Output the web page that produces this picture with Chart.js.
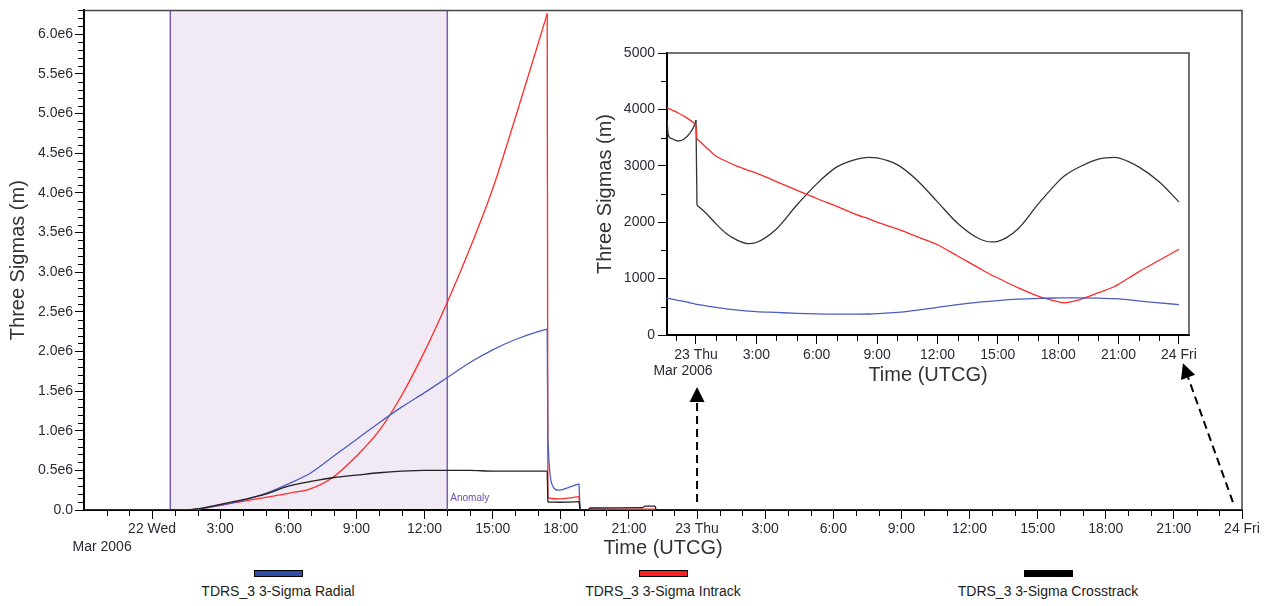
<!DOCTYPE html>
<html><head><meta charset="utf-8">
<script src="https://cdn.jsdelivr.net/npm/chart.js@4.4.1/dist/chart.umd.min.js"></script>
<style>
html,body{margin:0;padding:0;background:#fff;}
#wrap{position:relative;width:1271px;height:606px;overflow:hidden;font-family:'Liberation Sans',Arial,sans-serif;}
#main{position:absolute;left:0;top:0;}
#inset{position:absolute;left:590px;top:40px;}
.lg{position:absolute;top:570px;width:300px;text-align:center;font-size:14px;color:#222;line-height:16px;}
.lg .sw{display:block;margin:0 auto;width:47px;height:5px;border:1px solid #000;}
.lg .tx{display:block;margin-top:6px;}
</style></head>
<body>
<div id="wrap">
<canvas id="main" width="1271" height="560"></canvas>
<canvas id="inset" width="620" height="350"></canvas>
<div class="lg" style="left:128px"><span class="sw" style="background:#2f4ea8"></span><span class="tx">TDRS_3 3-Sigma Radial</span></div>
<div class="lg" style="left:513px"><span class="sw" style="background:#ff1f1f"></span><span class="tx">TDRS_3 3-Sigma Intrack</span></div>
<div class="lg" style="left:898px"><span class="sw" style="background:#000"></span><span class="tx">TDRS_3 3-Sigma Crosstrack</span></div>
</div>
<script>
// ---- Main chart data (hours from 22 Mar 2006 00:00 UTCG, values in m) ----
const mainHours = [-3, 1.5, 2, 3, 4, 5, 6, 7, 8, 9, 10, 11, 12, 13, 14, 15, 16, 17, 17.4, 17.43, 17.5, 17.6, 17.9, 18.3, 18.8, 18.85, 19.2, 19.3, 21.6, 21.7, 22.15, 22.2];
const radialMain = [0, 0, 1e4, 6e4, 1.2e5, 2.1e5, 3.3e5, 4.7e5, 6.8e5, 8.9e5, 1.1e6, 1.3e6, 1.48e6, 1.67e6, 1.86e6, 2.02e6, 2.15e6, 2.25e6, 2.28e6, 8.8e5, 5.3e5, 3.3e5, 2.5e5, 2.8e5, 3.3e5, 2e3, 2e3, 2e3, 2e3, 2e3, 2e3, 1e3];
const intrackMain = [0, 0, 1e4, 6e4, 1.1e5, 1.6e5, 2.1e5, 2.7e5, 4.2e5, 6.8e5, 1.0e6, 1.45e6, 2.0e6, 2.62e6, 3.3e6, 4.05e6, 4.95e6, 5.88e6, 6.26e6, 1.6e5, 1.5e5, 1.45e5, 1.4e5, 1.5e5, 1.7e5, 3e3, 5e3, 1.2e4, 1.2e4, 1.2e4, 1.2e4, 4e3];
const crossMain = [0, 0, 1.5e4, 7e4, 1.3e5, 2.0e5, 3.0e5, 3.6e5, 4.1e5, 4.4e5, 4.7e5, 4.9e5, 5.0e5, 5.0e5, 5.0e5, 4.9e5, 4.9e5, 4.9e5, 4.9e5, 1.0e5, 1.0e5, 1.0e5, 9.8e4, 1.0e5, 1.05e5, 5e3, 5e3, 2.5e4, 3.0e4, 5.0e4, 5.0e4, 4e3];
const mainBreaks = [18, 24];   // indices where the curves jump (straight segments)

// ---- Inset data (hours from 23 Mar 2006 00:00 UTCG, values in m) ----
const insetHours = [-1.44, -1.38, -1.2, -0.9, -0.6, -0.3, -0.1, 0, 0.05, 0.5, 1, 1.5, 2, 2.6, 3, 4, 5, 6, 7, 8, 8.6, 9, 10, 11, 12, 13, 14, 14.7, 15, 16, 17, 18, 18.3, 19, 20, 20.8, 21, 22, 23, 24];
const radialInset = [650, 648, 635, 615, 595, 570, 555, 545, 543, 515, 490, 465, 445, 425, 415, 400, 385, 375, 370, 370, 372, 378, 400, 440, 490, 540, 580, 600, 610, 635, 650, 658, 660, 660, 655, 645, 640, 605, 570, 540];
const intrackInset = [4040, 4020, 3990, 3940, 3880, 3810, 3760, 3720, 3480, 3330, 3170, 3080, 3000, 2920, 2870, 2720, 2570, 2420, 2280, 2130, 2060, 2000, 1880, 1740, 1600, 1400, 1200, 1060, 1010, 840, 690, 590, 570, 620, 750, 860, 900, 1120, 1320, 1520];
const crossInset = [3830, 3550, 3480, 3440, 3470, 3580, 3700, 3810, 2300, 2160, 1970, 1800, 1690, 1620, 1640, 1880, 2300, 2680, 2980, 3120, 3150, 3140, 3020, 2740, 2360, 1980, 1720, 1650, 1660, 1880, 2320, 2720, 2820, 2970, 3120, 3150, 3140, 2980, 2720, 2360];
const insetBreaks = [7];

// ---- Tick labels / ranges ----
const mainXTicks = [0, 3, 6, 9, 12, 15, 18, 21, 24, 27, 30, 33, 36, 39, 42, 45, 48];
const mainYTicks = [0, 0.5e6, 1.0e6, 1.5e6, 2.0e6, 2.5e6, 3.0e6, 3.5e6, 4.0e6, 4.5e6, 5.0e6, 5.5e6, 6.0e6];
const insetXTicks = [0, 3, 6, 9, 12, 15, 18, 21, 24];
const insetYTicks = [0, 1000, 2000, 3000, 4000, 5000];
const dayLabels = {0: '22 Wed', 24: '23 Thu', 48: '24 Fri'};
const insetDayLabels = {0: '23 Thu', 24: '24 Fri'};
const monthLabel = 'Mar 2006';
const anomalyStart = 0.8, anomalyEnd = 13.0;
const seriesNames = ['TDRS_3 3-Sigma Radial', 'TDRS_3 3-Sigma Intrack', 'TDRS_3 3-Sigma Crosstrack'];

const FONT = "'Liberation Sans', Arial, sans-serif";
const TICKC = '#2a2a35';

function pts(hours, vals, shift) { return hours.map((h, i) => ({x: h + (shift || 0), y: vals[i]})); }
// split a point list at jump indices: smooth piece, straight jump piece, smooth piece...
function pieces(points, breaks) {
  const out = []; let start = 0;
  breaks.forEach(b => { out.push(points.slice(start, b + 1)); out.push(points.slice(b, b + 2)); start = b + 1; });
  out.push(points.slice(start));
  return out;
}
function makeSets(name, points, breaks, color) {
  return pieces(points, breaks).map(p => ({label: name, data: p, borderColor: color}));
}
function hourLabel(v, days) {
  if (days[v] !== undefined) return days[v];
  return (((v % 24) + 24) % 24) + ':00';
}
function arrow(ctx, x0, y0, x1, y1) {
  const ang = Math.atan2(y1 - y0, x1 - x0), hl = 15, hw = 7.5;
  const bx = x1 - hl * Math.cos(ang), by = y1 - hl * Math.sin(ang);
  ctx.save();
  ctx.strokeStyle = '#000'; ctx.fillStyle = '#000'; ctx.lineWidth = 2;
  ctx.setLineDash([8, 5]);
  ctx.beginPath(); ctx.moveTo(x0, y0); ctx.lineTo(bx, by); ctx.stroke();
  ctx.setLineDash([]);
  ctx.beginPath(); ctx.moveTo(x1, y1);
  ctx.lineTo(bx + hw * Math.sin(ang), by - hw * Math.cos(ang));
  ctx.lineTo(bx - hw * Math.sin(ang), by + hw * Math.cos(ang));
  ctx.closePath(); ctx.fill();
  ctx.restore();
}

const mainDeco = {
  id: 'mainDeco',
  beforeDatasetsDraw(c) {
    const {ctx, chartArea: a, scales: {x}} = c;
    const x1 = x.getPixelForValue(anomalyStart), x2 = x.getPixelForValue(anomalyEnd);
    ctx.save();
    ctx.fillStyle = '#f1e9f3';
    ctx.fillRect(x1, a.top, x2 - x1, a.bottom - a.top - 1);
    ctx.strokeStyle = '#7a5db4'; ctx.lineWidth = 1.5;
    [x1, x2].forEach(px => { ctx.beginPath(); ctx.moveTo(px, a.top); ctx.lineTo(px, a.bottom); ctx.stroke(); });
    ctx.fillStyle = '#6b4fae'; ctx.font = '10px ' + FONT; ctx.textAlign = 'left'; ctx.textBaseline = 'alphabetic';
    ctx.fillText('Anomaly', x2 + 3, a.bottom - 9);
    ctx.restore();
  },
  afterDraw(c) {
    const {ctx, chartArea: a, scales: {x, y}} = c;
    ctx.save();
    ctx.strokeStyle = '#000'; ctx.lineWidth = 1;
    for (let h = -3; h <= 48; h++) {
      if (h % 3 === 0) continue;
      const px = Math.round(x.getPixelForValue(h)) + 0.5;
      ctx.beginPath(); ctx.moveTo(px, a.bottom); ctx.lineTo(px, a.bottom + 6); ctx.stroke();
    }
    for (let k = 1; k <= 63; k++) {
      if (k % 5 === 0) continue;
      const py = Math.round(y.getPixelForValue(k * 1e5)) + 0.5;
      ctx.beginPath(); ctx.moveTo(a.left - 6, py); ctx.lineTo(a.left, py); ctx.stroke();
    }
    ctx.strokeStyle = '#444'; ctx.lineWidth = 1.5;
    ctx.beginPath(); ctx.moveTo(a.left, a.top); ctx.lineTo(a.right, a.top); ctx.lineTo(a.right, a.bottom); ctx.stroke();
    ctx.fillStyle = TICKC; ctx.font = '14px ' + FONT; ctx.textAlign = 'center'; ctx.textBaseline = 'middle';
    ctx.fillText(monthLabel, x.getPixelForValue(0) - 50, 547);
    ctx.restore();
    arrow(ctx, x.getPixelForValue(24), y.getPixelForValue(1.0e5), x.getPixelForValue(24), y.getPixelForValue(1.55e6));
    arrow(ctx, x.getPixelForValue(47.6), y.getPixelForValue(1.0e5), x.getPixelForValue(45.4), y.getPixelForValue(1.85e6));
  }
};

const insetDeco = {
  id: 'insetDeco',
  afterDraw(c) {
    const {ctx, chartArea: a, scales: {x, y}} = c;
    ctx.save();
    ctx.strokeStyle = '#000'; ctx.lineWidth = 1;
    for (let h = -1; h <= 24; h++) {
      if (h % 3 === 0) continue;
      const px = Math.round(x.getPixelForValue(h)) + 0.5;
      ctx.beginPath(); ctx.moveTo(px, a.bottom); ctx.lineTo(px, a.bottom + 6); ctx.stroke();
    }
    for (let v = 500; v < 5000; v += 1000) {
      const py = Math.round(y.getPixelForValue(v)) + 0.5;
      ctx.beginPath(); ctx.moveTo(a.left - 6, py); ctx.lineTo(a.left, py); ctx.stroke();
    }
    ctx.strokeStyle = '#444'; ctx.lineWidth = 1.5;
    ctx.beginPath(); ctx.moveTo(a.left, a.top); ctx.lineTo(a.right, a.top); ctx.lineTo(a.right, a.bottom); ctx.stroke();
    ctx.fillStyle = TICKC; ctx.font = '14px ' + FONT; ctx.textAlign = 'center'; ctx.textBaseline = 'middle';
    ctx.fillText(monthLabel, x.getPixelForValue(0) - 13, 331);
    ctx.restore();
  }
};

const colors = {radial: '#4c5dbf', intrack: '#ff2a2a', cross: '#222222'};

new Chart(document.getElementById('main'), {
  type: 'line',
  data: {
    datasets: [].concat(
      makeSets(seriesNames[2], pts(mainHours, crossMain).concat(pts(insetHours, crossInset, 24)), mainBreaks, colors.cross),
      makeSets(seriesNames[0], pts(mainHours, radialMain).concat(pts(insetHours, radialInset, 24)), mainBreaks, colors.radial),
      makeSets(seriesNames[1], pts(mainHours, intrackMain).concat(pts(insetHours, intrackInset, 24)), mainBreaks, colors.intrack)
    )
  },
  options: {
    responsive: false, animation: false,
    layout: {padding: {left: 0, top: 8, right: 29, bottom: 0}},
    plugins: {legend: {display: false}, tooltip: {enabled: false}},
    elements: {point: {radius: 0}, line: {borderWidth: 1.3, cubicInterpolationMode: 'monotone'}},
    scales: {
      x: {
        type: 'linear', min: -3, max: 48,
        afterBuildTicks: s => { s.ticks = mainXTicks.map(v => ({value: v})); },
        afterFit: s => { s.height = 50; },
        ticks: {autoSkip: false, maxRotation: 0, padding: 2, font: {family: FONT, size: 14}, color: TICKC,
                callback: v => hourLabel(v, dayLabels)},
        grid: {drawOnChartArea: false, tickLength: 9, color: '#000'},
        border: {display: true, color: '#000', width: 2},
        title: {display: true, text: 'Time (UTCG)', font: {family: FONT, size: 20}, color: '#333', padding: {top: 0, bottom: 0}}
      },
      y: {
        min: 0, max: 6.3e6,
        afterBuildTicks: s => { s.ticks = mainYTicks.map(v => ({value: v})); },
        afterFit: s => { s.width = 84; },
        ticks: {padding: 2, font: {family: FONT, size: 14}, color: TICKC,
                callback: v => v === 0 ? '0.0' : (v / 1e6).toFixed(1) + 'e6'},
        grid: {drawOnChartArea: false, tickLength: 9, color: '#000'},
        border: {display: true, color: '#000', width: 2},
        title: {display: true, text: 'Three Sigmas (m)', font: {family: FONT, size: 20}, color: '#333', padding: {top: 6, bottom: 0}}
      }
    }
  },
  plugins: [mainDeco]
});

new Chart(document.getElementById('inset'), {
  type: 'line',
  data: {
    datasets: [].concat(
      makeSets(seriesNames[0], pts(insetHours, radialInset), insetBreaks, colors.radial),
      makeSets(seriesNames[1], pts(insetHours, intrackInset), insetBreaks, colors.intrack),
      makeSets(seriesNames[2], pts(insetHours, crossInset), insetBreaks, '#333')
    )
  },
  options: {
    responsive: false, animation: false,
    layout: {padding: {left: 0, top: 13, right: 21, bottom: 0}},
    plugins: {legend: {display: false}, tooltip: {enabled: false}},
    elements: {point: {radius: 0}, line: {borderWidth: 1.3, cubicInterpolationMode: 'monotone'}},
    scales: {
      x: {
        type: 'linear', min: -1.44, max: 24.5,
        afterBuildTicks: s => { s.ticks = insetXTicks.map(v => ({value: v})); },
        afterFit: s => { s.height = 55; },
        ticks: {autoSkip: false, maxRotation: 0, padding: 3, font: {family: FONT, size: 14}, color: TICKC,
                callback: v => hourLabel(v, insetDayLabels)},
        grid: {drawOnChartArea: false, tickLength: 9, color: '#000'},
        border: {display: true, color: '#000', width: 2},
        title: {display: true, text: 'Time (UTCG)', font: {family: FONT, size: 20}, color: '#333', padding: {top: 0, bottom: 3}}
      },
      y: {
        min: 0, max: 5000,
        afterBuildTicks: s => { s.ticks = insetYTicks.map(v => ({value: v})); },
        afterFit: s => { s.width = 77; },
        ticks: {padding: 3, font: {family: FONT, size: 14}, color: TICKC, callback: v => String(v)},
        grid: {drawOnChartArea: false, tickLength: 9, color: '#000'},
        border: {display: true, color: '#000', width: 2},
        title: {display: true, text: 'Three Sigmas (m)', font: {family: FONT, size: 20}, color: '#333', padding: {top: 3, bottom: 0}}
      }
    }
  },
  plugins: [insetDeco]
});
</script>
</body></html>
